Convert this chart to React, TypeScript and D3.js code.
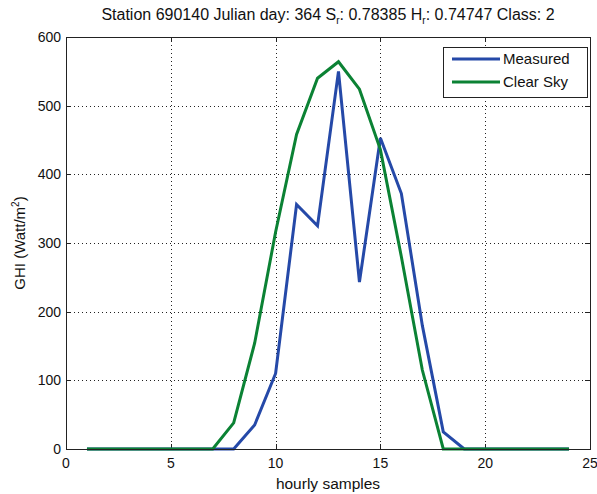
import React from "react";
import * as d3 from "d3";

// Hourly samples (hours 1..24) and GHI values in W/m²
const hours = [1, 2, 3, 4, 5, 6, 7, 8, 9, 10, 11, 12, 13, 14, 15, 16, 17, 18, 19, 20, 21, 22, 23, 24];
const measured = [0, 0, 0, 0, 0, 0, 0, 0, 35, 110, 356, 325, 550, 243, 453, 372, 180, 25, 0, 0, 0, 0, 0, 0];
const clearSky = [0, 0, 0, 0, 0, 0, 0, 38, 154, 316, 458, 540, 564, 524, 436, 280, 115, 0, 0, 0, 0, 0, 0, 0];

const xTicks = [0, 5, 10, 15, 20, 25];
const yTicks = [0, 100, 200, 300, 400, 500, 600];

const seriesNames = ["Measured", "Clear Sky"];
const seriesColors = ["#2549a8", "#0b8234"];

const W = 597;
const H = 494;
const margin = { left: 66, right: 7, top: 37, bottom: 45 };
const FONT = "'Liberation Sans', Arial, Helvetica, sans-serif";

export default function App() {
  const x = d3.scaleLinear().domain([0, 25]).range([margin.left, W - margin.right]);
  const y = d3.scaleLinear().domain([0, 600]).range([H - margin.bottom, margin.top]);

  const line = d3
    .line<number>()
    .x((_, i) => x(hours[i]))
    .y((v) => y(v));

  const x0 = x(0), x1 = x(25), y0 = y(0), y1 = y(600);
  const tickLen = 5;

  const legX = 443, legY = 47, legW = 144, legH = 50;

  return (
    <svg
      width={W}
      height={H}
      style={{ position: "absolute", left: 0, top: 0, background: "#fff" }}
      fontFamily={FONT}
    >
      <rect x={0} y={0} width={W} height={H} fill="#fff" />

      {/* grid */}
      <g stroke="#222" strokeWidth={1} strokeDasharray="1 3">
        {xTicks.filter((t) => t > 0 && t < 25).map((t) => (
          <line key={"gx" + t} x1={Math.round(x(t)) + 0.5} x2={Math.round(x(t)) + 0.5} y1={y1} y2={y0} />
        ))}
        {yTicks.filter((t) => t > 0 && t < 600).map((t) => (
          <line key={"gy" + t} x1={x0} x2={x1} y1={Math.round(y(t)) + 0.5} y2={Math.round(y(t)) + 0.5} />
        ))}
      </g>

      {/* ticks */}
      <g stroke="#222" strokeWidth={1}>
        {xTicks.map((t) => {
          const px = Math.round(x(t)) + 0.5;
          return (
            <g key={"tx" + t}>
              <line x1={px} x2={px} y1={y0} y2={y0 - tickLen} />
              <line x1={px} x2={px} y1={y1} y2={y1 + tickLen} />
            </g>
          );
        })}
        {yTicks.map((t) => {
          const py = Math.round(y(t)) + 0.5;
          return (
            <g key={"ty" + t}>
              <line x1={x0} x2={x0 + tickLen} y1={py} y2={py} />
              <line x1={x1} x2={x1 - tickLen} y1={py} y2={py} />
            </g>
          );
        })}
      </g>

      {/* series */}
      <path d={line(measured) || ""} fill="none" stroke={seriesColors[0]} strokeWidth={3} strokeLinejoin="miter" />
      <path d={line(clearSky) || ""} fill="none" stroke={seriesColors[1]} strokeWidth={3} strokeLinejoin="miter" />

      {/* axes box */}
      <rect x={Math.round(x0) + 0.5} y={Math.round(y1) + 0.5} width={Math.round(x1 - x0)} height={Math.round(y0 - y1)} fill="none" stroke="#222" strokeWidth={1} />

      {/* tick labels */}
      <g fontSize={14} fill="#111">
        {xTicks.map((t) => (
          <text key={"lx" + t} x={x(t)} y={y0 + 19} textAnchor="middle">{t}</text>
        ))}
        {yTicks.map((t) => (
          <text key={"ly" + t} x={x0 - 5} y={y(t) + 5} textAnchor="end">{t}</text>
        ))}
      </g>

      {/* axis labels */}
      <text x={(x0 + x1) / 2} y={489} textAnchor="middle" fontSize={15.5} fill="#111">hourly samples</text>
      <text transform={`translate(25,${(y0 + y1) / 2}) rotate(-90)`} textAnchor="middle" fontSize={15} fill="#111">
        GHI (Watt/m<tspan dy={-6} fontSize={10}>2</tspan><tspan dy={6}>)</tspan>
      </text>

      {/* title */}
      <text x={(x0 + x1) / 2} y={19.5} textAnchor="middle" fontSize={16} fill="#111">
        Station 690140 Julian day: 364 S<tspan dy={4} fontSize={10}>r</tspan>
        <tspan dy={-4}>: 0.78385 H</tspan><tspan dy={4} fontSize={10}>r</tspan>
        <tspan dy={-4}>: 0.74747 Class: 2</tspan>
      </text>

      {/* legend */}
      <rect x={legX + 0.5} y={legY + 0.5} width={legW} height={legH} fill="#fff" stroke="#222" strokeWidth={1} />
      {seriesNames.map((name, i) => {
        const ly = legY + 12 + i * 23;
        return (
          <g key={name}>
            <line x1={legX + 9} x2={legX + 57} y1={ly} y2={ly} stroke={seriesColors[i]} strokeWidth={3} />
            <text x={legX + 60} y={ly + 5} fontSize={15} fill="#111">{name}</text>
          </g>
        );
      })}
    </svg>
  );
}
